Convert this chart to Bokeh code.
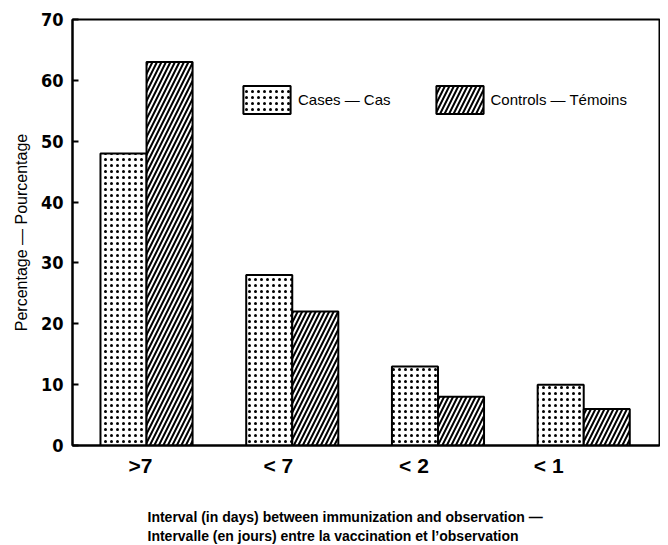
import numpy as np
from bokeh.plotting import figure
from bokeh.models import (ColumnDataSource, FixedTicker, Range1d, Legend, LegendItem, Title)
from bokeh.embed import file_html
from bokeh.resources import INLINE

# ---- data ----
categories = [">7", "< 7", "< 2", "< 1"]
cases = [48, 28, 13, 10]
controls = [63, 22, 8, 6]
y_ticks = [0, 10, 20, 30, 40, 50, 60, 70]
series_names = ["Cases \u2014 Cas", "Controls \u2014 T\u00e9moins"]
y_title = "Percentage \u2014 Pourcentage"
x_title = ("Interval (in days) between immunization and observation \u2014\n"
           "Intervalle (en jours) entre la vaccination et l\u2019observation")

idx = np.arange(1, len(categories) + 1, dtype=float)
bar_w = 0.316
label_shift = [-0.041, -0.096, -0.165, -0.24]   # hand-drawn label placement

src = ColumnDataSource(dict(
    x_cases=idx - bar_w / 2, x_ctrl=idx + bar_w / 2,
    cases=cases, controls=controls,
))

p = figure(width=660, height=544, output_backend="svg", toolbar_location=None,
           x_range=Range1d(0.492, 4.52), y_range=Range1d(0, 70),
           min_border_left=72, min_border_right=1, min_border_top=19,
           min_border_bottom=99)
p.background_fill_color = "white"
p.border_fill_color = "white"
p.outline_line_color = "black"
p.outline_line_width = 2
p.xgrid.visible = False
p.ygrid.visible = False

r_cases = p.vbar(x="x_cases", top="cases", bottom=0, width=bar_w, source=src,
                 fill_color="white", line_color="black", line_width=2,
                 hatch_pattern=".", hatch_color="black", hatch_scale=6, hatch_weight=1)
r_ctrl = p.vbar(x="x_ctrl", top="controls", bottom=0, width=bar_w, source=src,
                fill_color="white", line_color="black", line_width=2,
                hatch_pattern="/", hatch_color="black", hatch_scale=9, hatch_weight=2)

# y axis
ya = p.yaxis[0]
ya.ticker = FixedTicker(ticks=y_ticks)
ya.major_tick_in = 6
ya.major_tick_out = 0
ya.minor_tick_line_color = None
ya.major_tick_line_width = 2
ya.axis_line_width = 2
ya.major_label_standoff = 9
ya.major_label_text_font = "DejaVu Sans Condensed"
ya.major_label_text_font_style = "bold"
ya.major_label_text_font_size = "18px"
ya.major_label_text_color = "black"
ya.axis_label = y_title
ya.axis_label_text_font = "Liberation Sans"
ya.axis_label_text_font_style = "normal"
ya.axis_label_text_font_size = "16px"
ya.axis_label_standoff = 8
ya.axis_label_text_color = "black"

# x axis
xa = p.xaxis[0]
tick_pos = [float(i + s) for i, s in zip(idx, label_shift)]
xa.ticker = FixedTicker(ticks=tick_pos)
xa.major_label_overrides = {t: c for t, c in zip(tick_pos, categories)}
xa.major_tick_in = 0
xa.major_tick_out = 0
xa.minor_tick_line_color = None
xa.axis_line_width = 2
xa.major_label_standoff = 8
xa.major_label_text_font = "Liberation Sans"
xa.major_label_text_font_style = "bold"
xa.major_label_text_font_size = "21px"
xa.major_label_text_color = "black"
# blank spacer label to push the two-line title down
xa.axis_label = " "
xa.axis_label_text_font_size = "10px"
xa.axis_label_standoff = 14

# x axis title (two lines)
t1 = Title(text=x_title, align="left", offset=75, standoff=0,
           text_font="Liberation Sans", text_font_style="bold",
           text_font_size="14px", text_line_height=1.2, text_color="black")
p.add_layout(t1, "below")

legend = Legend(items=[LegendItem(label=series_names[0], renderers=[r_cases]),
                       LegendItem(label=series_names[1], renderers=[r_ctrl])],
                location=(165, 328), orientation="horizontal",
                glyph_width=59, glyph_height=35, label_standoff=2, spacing=39,
                padding=0, margin=0, border_line_alpha=0, background_fill_alpha=0,
                label_text_font="Liberation Sans", label_text_font_size="15px",
                label_text_color="black")
p.add_layout(legend, "center")

open("out.html", "w").write(file_html(p, INLINE))
